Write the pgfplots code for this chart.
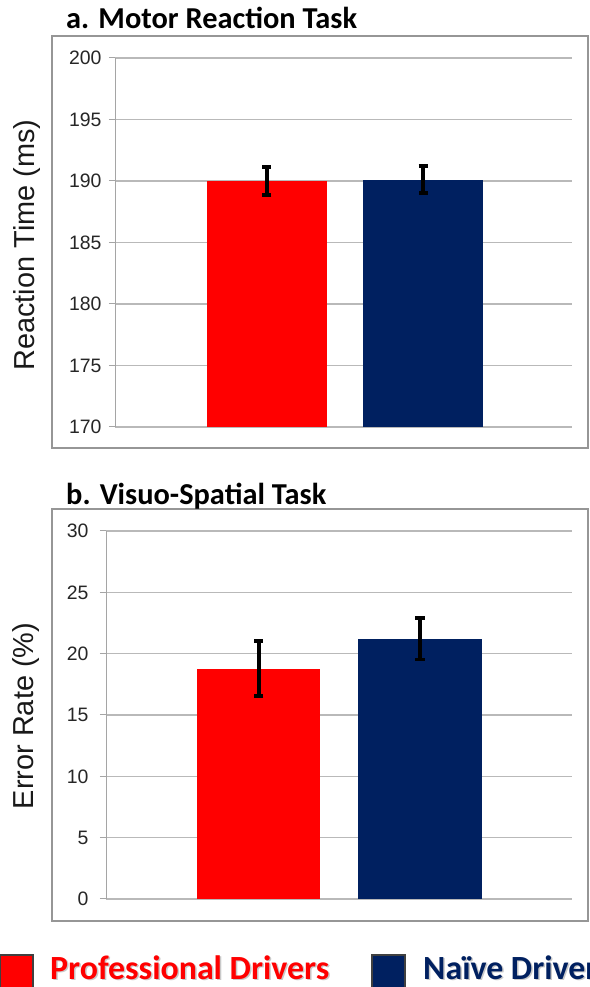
\documentclass[border=0pt]{standalone}
\usepackage{pgfplots}
\pgfplotsset{compat=1.18}
\usepackage{fontspec}
\setmainfont{Liberation Sans}
\newfontfamily\calibri{Carlito}
\definecolor{navyb}{RGB}{0,32,96}
\definecolor{gridc}{RGB}{185,185,185}
\definecolor{axc}{RGB}{165,165,165}
\definecolor{boxc}{RGB}{150,150,150}
\pgfplotsset{
  panel/.style={
    scale only axis, anchor=south west,
    axis y line=left, axis line style={-, draw=axc, line width=1bp},
    hide x axis,
    ymajorgrids, major grid style={draw=gridc, line width=1.2bp},
    tick align=outside, major tick length=6bp,
    ytick style={draw=axc, line width=1bp},
    yticklabel style={font=\fontsize{19.5}{21}\selectfont, text=black!85},
    /pgf/number format/assume math mode=true,
    clip=false,
  },
}
\begin{document}
\begin{tikzpicture}
\clip (0bp,0bp) rectangle (590bp,987bp);
\fill[white] (0bp,0bp) rectangle (590bp,987bp);
% panel boxes
\draw[boxc, line width=1.3bp] (52bp,539bp) rectangle (588bp,951bp);
\draw[boxc, line width=1.3bp] (52bp,66bp) rectangle (588bp,478bp);
% panel a
\begin{axis}[panel, at={(115bp,560bp)}, width=457bp, height=369bp,
  yticklabel style={xshift=-4bp},
  xmin=0.026, xmax=2.955, ymin=170, ymax=200, ytick={170,175,...,200}, ybar]
\addplot[bar width=120bp, fill=red, draw=none, bar shift=0pt,
  error bars/.cd, y dir=both, y explicit,
  error bar style={line width=3.6bp, draw=black},
  error mark options={rotate=90, line width=3.6bp, mark size=4.5bp, draw=black}]
  coordinates {(1,190.0) +- (0,1.15)};
\addplot[bar width=120bp, fill=navyb, draw=none, bar shift=0pt,
  error bars/.cd, y dir=both, y explicit,
  error bar style={line width=3.6bp, draw=black},
  error mark options={rotate=90, line width=3.6bp, mark size=4.5bp, draw=black}]
  coordinates {(2,190.1) +- (0,1.1)};
\end{axis}
% panel b
\begin{axis}[panel, at={(106bp,88bp)}, width=466bp, height=368bp,
  yticklabel style={xshift=-8bp},
  xmin=0.05, xmax=2.944, ymin=0, ymax=30, ytick={0,5,...,30}, ybar]
\addplot[bar width=123bp, fill=red, draw=none, bar shift=0pt,
  error bars/.cd, y dir=both, y explicit,
  error bar style={line width=3.6bp, draw=black},
  error mark options={rotate=90, line width=3.6bp, mark size=4.5bp, draw=black}]
  coordinates {(1,18.78) +- (0,2.24)};
\addplot[bar width=123bp, fill=navyb, draw=none, bar shift=0pt,
  error bars/.cd, y dir=both, y explicit,
  error bar style={line width=3.6bp, draw=black},
  error mark options={rotate=90, line width=3.6bp, mark size=4.5bp, draw=black}]
  coordinates {(2,21.22) +- (0,1.68)};
\end{axis}
% titles
\node[anchor=base west, inner sep=0pt, font=\calibri\bfseries\fontsize{30.5}{32}\selectfont] at (66bp,958bp) {a. Motor Reaction Task};
\node[anchor=base west, inner sep=0pt, font=\calibri\bfseries\fontsize{30.5}{32}\selectfont] at (66bp,482bp) {b. Visuo-Spatial Task};
% y labels
\node[rotate=90, anchor=base, inner sep=0pt, font=\fontsize{29}{32}\selectfont, text=black!90] at (34bp,742bp) {Reaction Time (ms)};
\node[rotate=90, anchor=base, inner sep=0pt, font=\fontsize{29}{32}\selectfont, text=black!90] at (33bp,271bp) {Error Rate (\%)};
% legend
\fill[red, draw=black!75, line width=1.5bp] (0bp,-5bp) rectangle (33bp,32bp);
\node[anchor=base west, inner sep=0pt, text depth=0pt, font=\calibri\bfseries\fontsize{34}{36}\selectfont, text=black!35, opacity=0.6] at (51.5bp,6.5bp) {Professional Drivers};
\node[anchor=base west, inner sep=0pt, text depth=0pt, font=\calibri\bfseries\fontsize{34}{36}\selectfont, text=red] at (50bp,8bp) {Professional Drivers};
\fill[navyb, draw=black!75, line width=1.5bp] (372bp,-5bp) rectangle (405bp,32bp);
\node[anchor=base west, inner sep=0pt, text depth=0pt, font=\calibri\bfseries\fontsize{34}{36}\selectfont, text=black!35, opacity=0.6] at (424.5bp,6.5bp) {Naïve Drivers};
\node[anchor=base west, inner sep=0pt, text depth=0pt, font=\calibri\bfseries\fontsize{34}{36}\selectfont, text=navyb] at (423bp,8bp) {Naïve Drivers};
\end{tikzpicture}
\end{document}
